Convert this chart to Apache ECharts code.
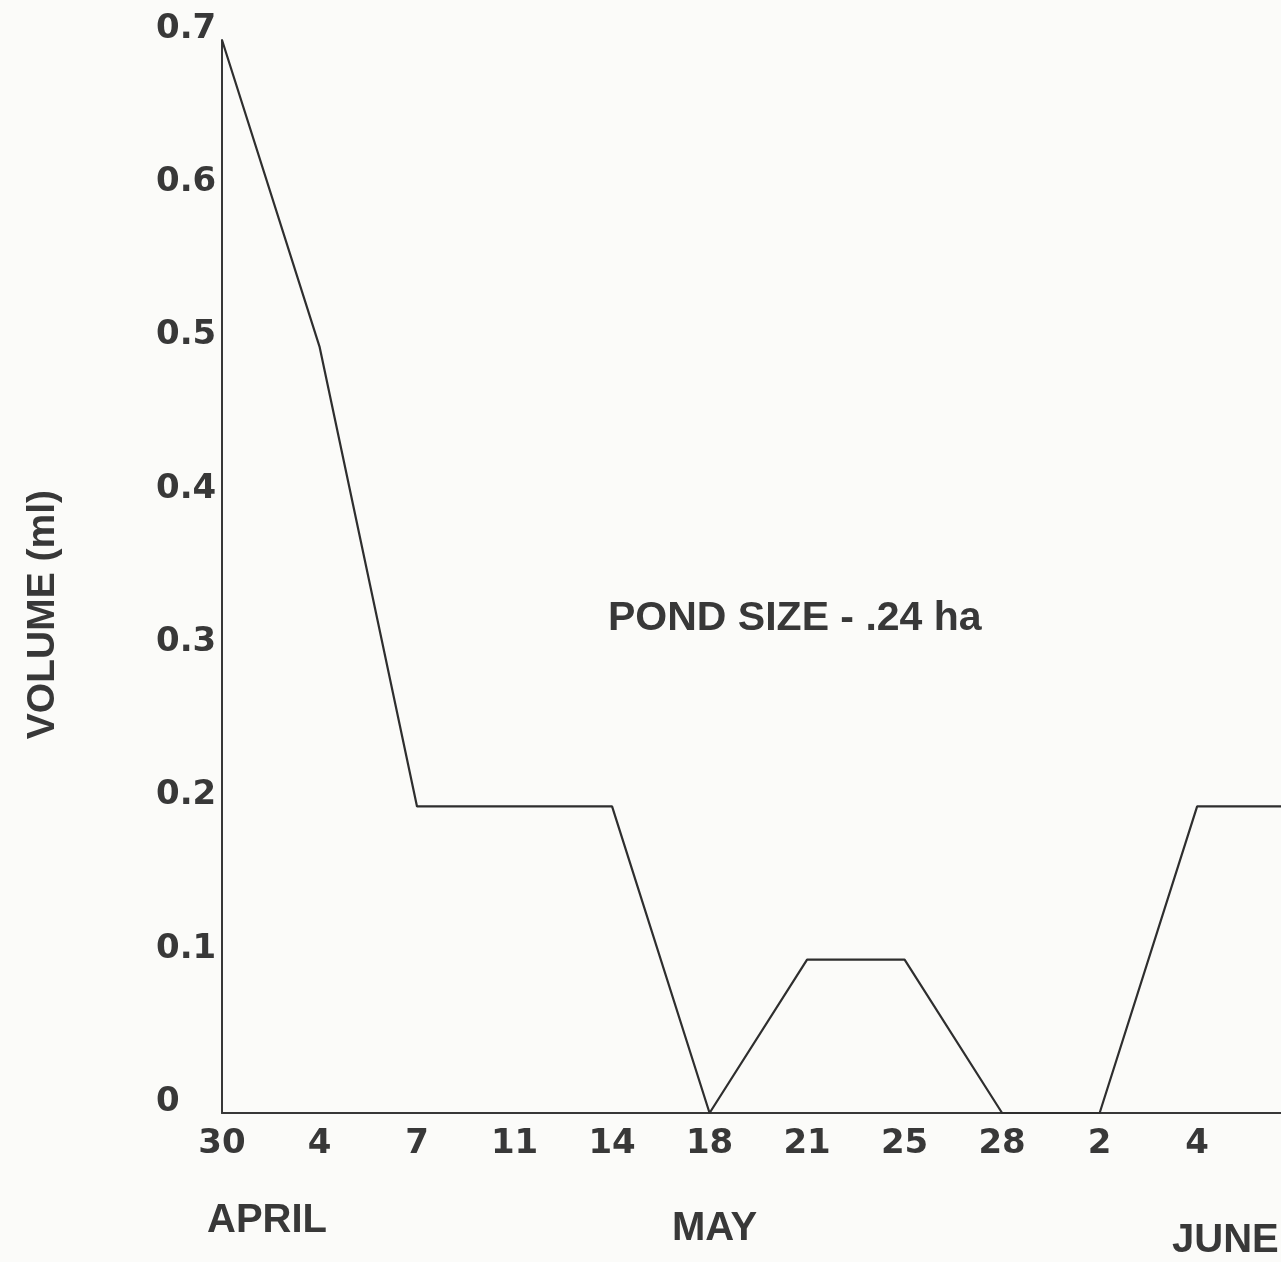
<!DOCTYPE html>
<html>
<head>
<meta charset="utf-8">
<script src="https://cdn.jsdelivr.net/npm/echarts@6/dist/echarts.min.js"></script>
<style>
html,body{margin:0;padding:0;background:#fbfbf9;}
#chart{width:1281px;height:1262px;}
</style>
</head>
<body>
<div id="chart"></div>
<script>
// Sampling dates (day of month), April 30 – June
const dayLabels = ['30', '4', '7', '11', '14', '18', '21', '25', '28', '2', '4', '7'];
// Plankton settled volume (ml)
const volume = [0.7, 0.5, 0.2, 0.2, 0.2, 0, 0.1, 0.1, 0, 0, 0.2, 0.2];
const yTicks = [0, 0.1, 0.2, 0.3, 0.4, 0.5, 0.6, 0.7];
const months = ['APRIL', 'MAY', 'JUNE'];
const yTitle = 'VOLUME (ml)';
const note = 'POND SIZE - .24 ha';

const ink = '#383838';
// visible x range: categories 0 .. ~10.86 (chart is cut at the right edge)
const xMaxVisible = 10.86;
const seriesData = volume.map((v, i) => [i, v]);

const chart = echarts.init(document.getElementById('chart'), null, {renderer: 'canvas'});
chart.setOption({
  backgroundColor: '#fbfbf9',
  animation: false,
  grid: {left: 222, top: 40, right: 0, bottom: 149, containLabel: false},
  xAxis: {
    type: 'value',
    min: 0, max: xMaxVisible, interval: 1,
    axisLine: {lineStyle: {color: ink, width: 2}},
    axisTick: {show: false},
    splitLine: {show: false},
    axisLabel: {
      margin: 14, color: ink, showMaxLabel: false,
      fontFamily: 'DejaVu Sans', fontWeight: 'bold', fontSize: 34,
      formatter: v => (Number.isInteger(v) && dayLabels[v] !== undefined) ? dayLabels[v] : ''
    }
  },
  yAxis: {
    type: 'value',
    min: 0, max: 0.7, interval: 0.1,
    axisLine: {show: true, lineStyle: {color: ink, width: 2}},
    axisTick: {show: false},
    splitLine: {show: false},
    axisLabel: {
      margin: 66, align: 'left', verticalAlign: 'bottom', lineHeight: 22, color: ink,
      fontFamily: 'DejaVu Sans', fontWeight: 'bold', fontSize: 34,
      formatter: v => {
        const t = yTicks.find(k => Math.abs(k - v) < 1e-9);
        return t === 0 ? '0' : String(t);
      }
    }
  },
  series: [{
    type: 'line',
    data: seriesData,
    symbol: 'none',
    lineStyle: {color: '#2e2e2e', width: 2.2},
    clip: true
  }],
  graphic: [
    {type: 'text', left: 24, top: 490, rotation: Math.PI / 2,
     style: {text: yTitle, fill: ink, font: 'bold 39px "Liberation Sans", sans-serif'}},
    {type: 'text', x: 608, y: 598,
     style: {text: note, fill: ink, font: 'bold 41px "Liberation Sans", sans-serif'}},
    {type: 'text', x: 207, y: 1201,
     style: {text: months[0], fill: ink, font: 'bold 40px "Liberation Sans", sans-serif'}},
    {type: 'text', x: 672, y: 1209,
     style: {text: months[1], fill: ink, font: 'bold 40px "Liberation Sans", sans-serif'}},
    {type: 'text', x: 1172, y: 1221,
     style: {text: months[2], fill: ink, font: 'bold 40px "Liberation Sans", sans-serif'}}
  ]
});
</script>
</body>
</html>
